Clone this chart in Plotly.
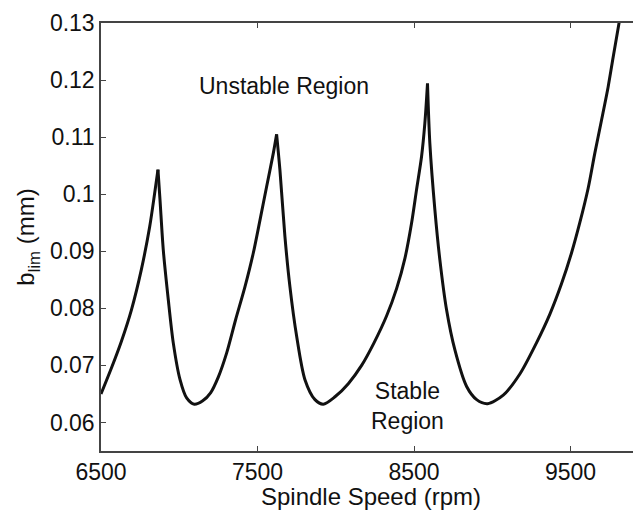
import plotly.graph_objects as go

# Spindle speed (rpm) and limiting depth of cut b_lim (mm)
speed = [6500, 6566, 6630, 6694, 6757, 6811, 6843, 6864,
         6877, 6898, 6930, 6962, 7005, 7047, 7096,
         7150, 7200, 7250, 7303, 7360, 7420, 7473, 7516, 7558, 7601, 7622,
         7643, 7675, 7707, 7750, 7803, 7867, 7920,
         7995, 8080, 8165, 8245, 8325, 8389, 8442, 8484, 8516, 8548, 8569, 8586,
         8601, 8633, 8665, 8708, 8761, 8836, 8900, 8970,
         9070, 9176, 9283, 9368, 9442, 9506, 9559, 9612, 9655, 9698, 9740, 9772, 9811]
b_lim = [0.0650, 0.0695, 0.0742, 0.0797, 0.0867, 0.0943, 0.1002, 0.1043,
         0.0990, 0.0902, 0.0815, 0.0739, 0.0675, 0.0643, 0.0632,
         0.0638, 0.0652, 0.0680, 0.0722, 0.0780, 0.0838, 0.0897, 0.0955, 0.1013, 0.1072, 0.1105,
         0.1043, 0.0926, 0.0838, 0.0751, 0.0675, 0.0640, 0.0632,
         0.0645, 0.0668, 0.0700, 0.0740, 0.0787, 0.0835, 0.0888, 0.0949, 0.1008, 0.1066, 0.1124, 0.1194,
         0.1089, 0.0973, 0.0885, 0.0797, 0.0727, 0.0663, 0.0640, 0.0633,
         0.0648, 0.0685, 0.0740, 0.0790, 0.0843, 0.0897, 0.0950, 0.1010, 0.1072, 0.1130, 0.1188, 0.1240, 0.1302]

x_ticks = [6500, 7500, 8500, 9500]
x_ticklabels = ["6500", "7500", "8500", "9500"]
y_ticks = [0.06, 0.07, 0.08, 0.09, 0.10, 0.11, 0.12, 0.13]
y_ticklabels = ["0.06", "0.07", "0.08", "0.09", "0.1", "0.11", "0.12", "0.13"]

FONT = "Liberation Sans, Arial, Helvetica, sans-serif"

# split the lobe curve at its cusps (local maxima) so each lobe is drawn smooth
cusps = [i for i in range(1, len(b_lim) - 1) if b_lim[i] > b_lim[i - 1] and b_lim[i] > b_lim[i + 1]]
bounds = [0] + cusps + [len(b_lim) - 1]

fig = go.Figure()
for a, b in zip(bounds[:-1], bounds[1:]):
    fig.add_trace(go.Scatter(
        x=speed[a:b + 1], y=b_lim[a:b + 1], mode="lines",
        line=dict(color="#111111", width=3, shape="spline", smoothing=0.8),
        hoverinfo="skip", showlegend=False,
    ))

fig.add_annotation(x=7672, y=0.1190, xref="x", yref="y", text="Unstable Region",
                   showarrow=False, font=dict(family=FONT, size=23, color="#111111"))
fig.add_annotation(x=8455, y=0.0628, xref="x", yref="y", text="Stable<br>Region",
                   showarrow=False, font=dict(family=FONT, size=23, color="#111111"))

# the page body adds an 8 px offset, so the figure is sized to land the axes where the reference has them
fig.update_layout(
    width=633, height=502,
    margin=dict(l=93, r=0, t=15, b=59, autoexpand=False),
    paper_bgcolor="white", plot_bgcolor="white",
    font=dict(family=FONT, size=23, color="#111111"),
    xaxis=dict(
        range=[6500, 9950], tickvals=x_ticks, ticktext=x_ticklabels,
        showgrid=False, zeroline=False, showline=True, linecolor="#444444", linewidth=1.5,
        mirror="ticks", ticks="inside", ticklen=5, tickcolor="#444444",
        tickfont=dict(family=FONT, size=23, color="#111111"),
        automargin=False,
        title=dict(text="Spindle Speed (rpm)", font=dict(family=FONT, size=24, color="#111111"),
                   standoff=2),
    ),
    yaxis=dict(
        range=[0.055, 0.13], tickvals=y_ticks, ticktext=y_ticklabels,
        showgrid=False, zeroline=False, showline=True, linecolor="#444444", linewidth=1.5,
        ticks="inside", ticklen=5, tickcolor="#444444",
        tickfont=dict(family=FONT, size=23, color="#111111"),
        automargin=False,
        title=dict(text="b<sub>lim</sub> (mm)", font=dict(family=FONT, size=24, color="#111111"),
                   standoff=8),
    ),
)

fig.write_html("out.html")
